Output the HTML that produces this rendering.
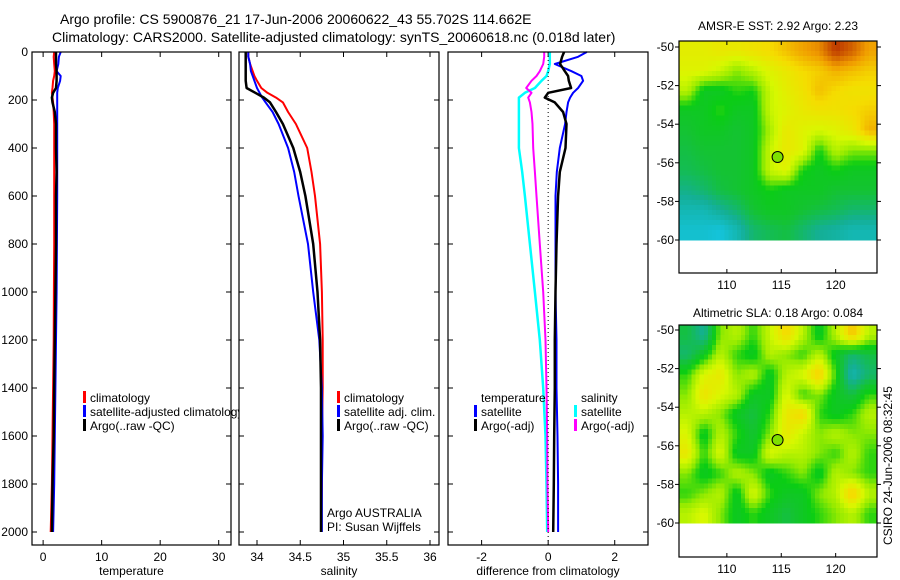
<!DOCTYPE html>
<html><head><meta charset="utf-8">
<style>
html,body{margin:0;padding:0;background:#fff;}
svg{display:block;font-family:"Liberation Sans",sans-serif;}
</style></head>
<body>
<svg id="fig" width="900" height="580" viewBox="0 0 900 580" xmlns="http://www.w3.org/2000/svg">
<text x="60" y="24" font-size="14">Argo profile: CS 5900876_21 17-Jun-2006 20060622_43 55.702S 114.662E</text>
<text x="52" y="42" font-size="14">Climatology: CARS2000. Satellite-adjusted climatology: synTS_20060618.nc (0.018d later)</text>
<g id="panels"></g>
<text transform="translate(892,545) rotate(-90)" font-size="12">CSIRO 24-Jun-2006 08:32:45</text>
</svg>
<script>
// ---- data ----
const depths = [0,20,50,80,100,120,150,170,190,210,250,300,400,500,600,800,1000,1200,1400,1600,1800,2000];
const tempClim = [1.9,1.8,1.9,2.0,1.9,1.7,1.6,1.5,1.6,1.7,1.8,1.9,1.9,1.9,1.9,1.9,1.85,1.8,1.7,1.6,1.5,1.3];
const tempSat  = [3.0,2.7,2.6,2.3,3.0,2.9,2.5,2.4,2.4,2.4,2.4,2.4,2.4,2.4,2.4,2.35,2.3,2.2,2.1,2.0,1.9,1.7];
const tempArgo = [2.2,2.2,2.2,2.3,2.3,2.3,2.2,1.7,1.5,1.6,2.0,2.2,2.2,2.3,2.2,2.2,2.1,2.0,1.9,1.8,1.6,1.5];
const salClim = [33.9,33.9,33.92,33.95,33.97,34.0,34.05,34.12,34.22,34.3,34.36,34.45,34.58,34.63,34.67,34.73,34.75,34.76,34.76,34.75,34.75,34.74];
const salSat  = [33.9,33.9,33.92,33.93,33.95,33.97,34.0,34.03,34.06,34.1,34.18,34.25,34.36,34.43,34.48,34.59,34.65,34.72,34.75,34.76,34.75,34.75];
const salArgo = [33.87,33.87,33.87,33.87,33.87,33.87,33.88,33.98,34.08,34.15,34.22,34.3,34.42,34.5,34.56,34.65,34.7,34.73,34.74,34.74,34.74,34.74];
const dTSat  = [1.16,0.9,0.2,0.7,1.0,1.05,0.9,0.75,0.66,0.6,0.55,0.51,0.35,0.26,0.22,0.22,0.22,0.25,0.25,0.28,0.3,0.3];
const dTArgo = [0.48,0.42,0.36,0.5,0.6,0.62,0.69,0.0,-0.1,0.2,0.45,0.55,0.52,0.35,0.3,0.25,0.22,0.2,0.2,0.18,0.17,0.15];
const dSSat  = [0.05,0.05,0.05,0.0,-0.05,-0.2,-0.4,-0.7,-0.88,-0.88,-0.88,-0.88,-0.88,-0.78,-0.7,-0.55,-0.4,-0.25,-0.15,-0.08,-0.05,-0.03];
const dSArgo = [-0.12,-0.12,-0.15,-0.25,-0.35,-0.5,-0.66,-0.5,-0.6,-0.55,-0.5,-0.47,-0.45,-0.4,-0.35,-0.25,-0.15,-0.08,-0.05,-0.03,-0.02,0.0];
const depthTicks = [0,200,400,600,800,1000,1200,1400,1600,1800,2000];
const tempTicks = [0,10,20,30];
const salTicks = [34,34.5,35,35.5,36];
const salTickLabels = ["34","34.5","35","35.5","36"];
const diffTicks = [-2,0,2];
const lonTicks = [110,115,120];
const latTicks = [-50,-52,-54,-56,-58,-60];
const sstGrid = [
[.68,.68,.7,.7,.72,.74,.78,.82,.85,.95,.9,.82],
[.66,.66,.62,.55,.6,.66,.7,.74,.76,.8,.78,.76],
[.6,.45,.45,.5,.48,.62,.68,.72,.78,.74,.72,.72],
[.45,.45,.5,.45,.45,.62,.66,.7,.72,.72,.74,.76],
[.42,.45,.45,.42,.45,.58,.7,.66,.64,.66,.7,.8],
[.4,.42,.42,.42,.45,.62,.7,.66,.48,.6,.55,.55],
[.38,.4,.42,.42,.45,.62,.66,.48,.45,.48,.45,.45],
[.32,.35,.4,.42,.45,.48,.45,.45,.45,.42,.42,.42],
[.25,.25,.3,.35,.42,.45,.45,.42,.4,.38,.35,.35],
[.2,.2,.18,.25,.35,.38,.4,.35,.3,.28,.25,.25]];
const slaGrid = [
[.4,.3,.55,.6,.5,.62,.75,.6,.45,.6,.78,.6],
[.35,.45,.6,.5,.45,.6,.55,.5,.6,.45,.35,.4],
[.5,.65,.7,.55,.6,.45,.6,.65,.78,.5,.25,.35],
[.55,.72,.65,.6,.45,.45,.65,.5,.55,.45,.4,.5],
[.6,.6,.55,.45,.4,.5,.7,.75,.5,.45,.5,.6],
[.65,.45,.6,.5,.42,.55,.7,.62,.55,.6,.55,.55],
[.7,.5,.65,.45,.45,.65,.6,.6,.55,.5,.6,.5],
[.55,.45,.5,.6,.55,.45,.5,.55,.45,.6,.55,.5],
[.5,.55,.6,.45,.65,.5,.45,.45,.55,.6,.78,.6],
[.6,.65,.55,.45,.5,.45,.4,.45,.5,.55,.6,.5]];
const floatLon = 114.662, floatLat = -55.702;

// ---- drawing ----
const NS="http://www.w3.org/2000/svg";
const root=document.getElementById('panels');
function el(tag,attrs,parent){const e=document.createElementNS(NS,tag);for(const k in attrs)e.setAttribute(k,attrs[k]);(parent||root).appendChild(e);return e;}
const yTop=52, yScale=0.24;
const yD=d=>yTop+d*yScale;
const panelTop=52, panelBot=545;

function profilePanel(name,x0,x1,vmin,vmax,ticks,labels,xlabel,series,showDepth){
  const xs=v=>x0+(v-vmin)/(vmax-vmin)*(x1-x0);
  const g=el('g',{});
  
  
  el('rect',{x:x0,y:panelTop,width:x1-x0,height:panelBot-panelTop,fill:'#fff'},g);
  ticks.forEach((t,i)=>{
    const x=xs(t);
    el('line',{x1:x,x2:x,y1:panelTop,y2:panelTop+5,stroke:'#000'},g);
    el('line',{x1:x,x2:x,y1:panelBot,y2:panelBot-5,stroke:'#000'},g);
    const tx=el('text',{x:x,y:panelBot+16,'font-size':12,'text-anchor':'middle'},g);
    tx.textContent=labels[i];
    
    
  });
  depthTicks.forEach(d=>{
    const y=yD(d);
    el('line',{x1:x0,x2:x0+5,y1:y,y2:y,stroke:'#000'},g);
    el('line',{x1:x1,x2:x1-5,y1:y,y2:y,stroke:'#000'},g);
    if(showDepth){
      const tx=el('text',{x:x0-4,y:y+4,'font-size':12,'text-anchor':'end'},g);
      tx.textContent=d;
      
      
    }
  });
  const cg=el('g',{},g);
  series.forEach(s=>{
    const pts=s.v.map((v,i)=>xs(v).toFixed(1)+','+yD(depths[i]).toFixed(1)).join(' ');
    const p=el('polyline',{points:pts,fill:'none',stroke:s.c,'stroke-width':s.w,'stroke-linejoin':'round'},cg);
    
    
  });
  el('rect',{x:x0,y:panelTop,width:x1-x0,height:panelBot-panelTop,fill:'none',stroke:'#000','stroke-width':1.2},g);
  const xl=el('text',{x:(x0+x1)/2,y:panelBot+30,'font-size':12,'text-anchor':'middle'},g);
  xl.textContent=xlabel;
  
  
  return {g,xs};
}
function legend(g,items){
  items.forEach(it=>{
    if(it.c) el('rect',{x:it.x-7,y:it.y-11,width:3,height:12,fill:it.c},g);
    const t=el('text',{x:it.x,y:it.y,'font-size':12},g);
    t.textContent=it.t;
    
    
  });
}

const p1=profilePanel('temperature-panel',32,231,-1.9,32.1,tempTicks,tempTicks.map(String),'temperature',[
 {v:tempClim,c:'#f00',w:2,n:'temp-climatology-line'},
 {v:tempSat,c:'#00f',w:2,n:'temp-satellite-line'},
 {v:tempArgo,c:'#000',w:2.5,n:'temp-argo-line'}],true);
legend(p1.g,[{x:90,y:402,t:'climatology',c:'#f00'},{x:90,y:416,t:'satellite-adjusted climatology',c:'#00f'},{x:90,y:430,t:'Argo(..raw -QC)',c:'#000'}]);

const p2=profilePanel('salinity-panel',239,439,33.792,36.104,salTicks,salTickLabels,'salinity',[
 {v:salClim,c:'#f00',w:2,n:'sal-climatology-line'},
 {v:salSat,c:'#00f',w:2,n:'sal-satellite-line'},
 {v:salArgo,c:'#000',w:2.5,n:'sal-argo-line'}],false);
legend(p2.g,[{x:344,y:402,t:'climatology',c:'#f00'},{x:344,y:416,t:'satellite adj. clim.',c:'#00f'},{x:344,y:430,t:'Argo(..raw -QC)',c:'#000'},{x:327,y:517,t:'Argo AUSTRALIA'},{x:327,y:531,t:'PI: Susan Wijffels'}]);

const p3=profilePanel('difference-panel',448,648,-3.01,3.0,diffTicks,diffTicks.map(String),'difference from climatology',[
 {v:dSSat,c:'#0ff',w:2.5,n:'sal-diff-satellite-line'},
 {v:dSArgo,c:'#f0f',w:2,n:'sal-diff-argo-line'},
 {v:dTSat,c:'#00f',w:2,n:'temp-diff-satellite-line'},
 {v:dTArgo,c:'#000',w:2.5,n:'temp-diff-argo-line'}],false);
el('line',{x1:p3.xs(0),x2:p3.xs(0),y1:panelTop,y2:panelBot,stroke:'#000','stroke-dasharray':'1,3'},p3.g);
legend(p3.g,[{x:481,y:402,t:'temperature'},{x:481,y:416,t:'satellite',c:'#00f'},{x:481,y:430,t:'Argo(-adj)',c:'#000'},
 {x:581,y:402,t:'salinity'},{x:581,y:416,t:'satellite',c:'#0ff'},{x:581,y:430,t:'Argo(-adj)',c:'#f0f'}]);

// colormap
const cmapStops=[[0.15,[20,200,235]],[0.3,[20,175,150]],[0.42,[20,195,50]],[0.48,[10,205,20]],[0.56,[150,235,0]],[0.64,[215,248,0]],[0.74,[245,220,0]],[0.83,[240,155,0]],[0.97,[180,40,0]]];
function cmap(v){
  if(v<=cmapStops[0][0])return cmapStops[0][1];
  for(let i=1;i<cmapStops.length;i++){
    if(v<=cmapStops[i][0]){const a=cmapStops[i-1],b=cmapStops[i];const t=(v-a[0])/(b[0]-a[0]);return a[1].map((c,k)=>Math.round(c+(b[1][k]-c)*t));}
  }
  return cmapStops[cmapStops.length-1][1];
}
function mapPanel(name,title,titleY,boxTop,boxBot,lat50y,lat60y,grid){
  const x0=679,x1=877,lonMin=105.6,lonMax=123.8;
  const xs=lon=>x0+(lon-lonMin)/(lonMax-lonMin)*(x1-x0);
  const ys=lat=>lat50y+(-50-lat)/10*(lat60y-lat50y);
  const g=el('g',{});
  
  
  const t=el('text',{x:(x0+x1)/2,y:titleY,'font-size':12,'text-anchor':'middle'},g);
  t.textContent=title;
  
  
  el('rect',{x:x0,y:boxTop,width:x1-x0,height:boxBot-boxTop,fill:'#fff'},g);
  const R=grid.length,C=grid[0].length,S=4;
  const gx0=x0, gy0=boxTop, gw=x1-x0, gh=ys(-60)-boxTop;
  const cellW=gw/(C*S), cellH=gh/(R*S);
  const cells=el('g',{'shape-rendering':'crispEdges'},g);
  for(let r=0;r<R*S;r++){for(let c=0;c<C*S;c++){
    const fy=Math.max(0,Math.min(R-1,(r+0.5)/S-0.5)), fx=Math.max(0,Math.min(C-1,(c+0.5)/S-0.5));
    const r0=Math.floor(fy),c0=Math.floor(fx),r1=Math.min(R-1,r0+1),c1=Math.min(C-1,c0+1);
    const ty=fy-r0,tx=fx-c0;
    const v=(grid[r0][c0]*(1-tx)+grid[r0][c1]*tx)*(1-ty)+(grid[r1][c0]*(1-tx)+grid[r1][c1]*tx)*ty;
    const col=cmap(v);
    el('rect',{x:(gx0+c*cellW).toFixed(2),y:(gy0+r*cellH).toFixed(2),width:(cellW+0.4).toFixed(2),height:(cellH+0.4).toFixed(2),fill:'rgb('+col.join(',')+')'},cells);
  }}
  const mk=el('circle',{cx:xs(floatLon),cy:ys(floatLat),r:5.5,fill:'#7ee000',stroke:'#000','stroke-width':1},g);
  
  
  el('rect',{x:x0,y:boxTop,width:x1-x0,height:boxBot-boxTop,fill:'none',stroke:'#000','stroke-width':1.2},g);
  lonTicks.forEach(l=>{
    const x=xs(l);
    el('line',{x1:x,x2:x,y1:boxTop,y2:boxTop+4,stroke:'#000'},g);
    el('line',{x1:x,x2:x,y1:boxBot,y2:boxBot-4,stroke:'#000'},g);
    const tt=el('text',{x:x,y:boxBot+16,'font-size':12,'text-anchor':'middle'},g);
    tt.textContent=l;
    
    
  });
  latTicks.forEach(l=>{
    const y=ys(l);
    el('line',{x1:x0,x2:x0-4,y1:y,y2:y,stroke:'#000'},g);
    el('line',{x1:x1,x2:x1+4,y1:y,y2:y,stroke:'#000'},g);
    const tt=el('text',{x:x0-5,y:y+4,'font-size':12,'text-anchor':'end'},g);
    tt.textContent=l;
    
    
  });
}
mapPanel('amsr-sst-map','AMSR-E SST: 2.92 Argo: 2.23',30,41,273,47,240,sstGrid);
mapPanel('altimetric-sla-map','Altimetric SLA: 0.18 Argo: 0.084',317,325,557,330,523,slaGrid);
</script>
</body></html>
